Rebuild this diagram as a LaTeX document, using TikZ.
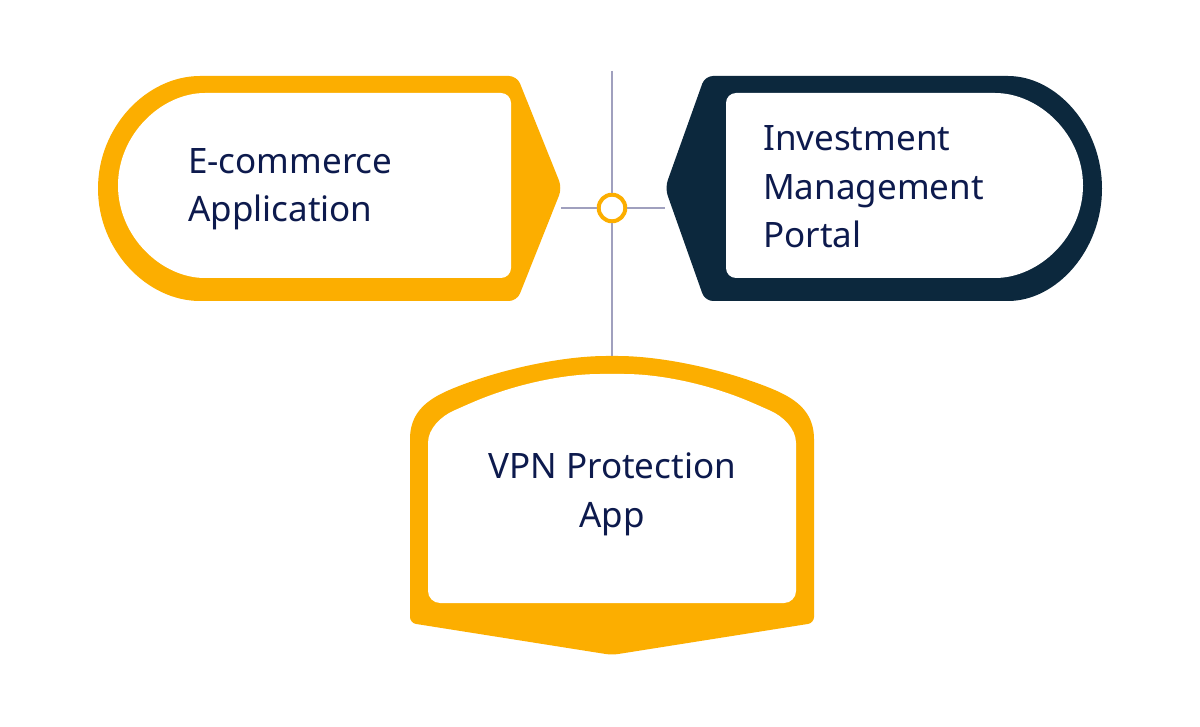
\documentclass[tikz,border=0pt]{standalone}
\usepackage{fontspec}
\setmainfont{Noto Sans}
\usetikzlibrary{positioning}
\definecolor{appgold}{RGB}{252,174,0}
\definecolor{appnavy}{RGB}{12,40,61}
\definecolor{textnavy}{RGB}{13,26,77}
\definecolor{linkgrey}{RGB}{160,160,190}

\begin{document}
\begin{tikzpicture}[x=1pt,y=-1pt]
      \tikzstyle{txt} = [text=textnavy, font=\fontsize{35}{48.5}\selectfont, inner sep=0pt]
      \tikzstyle{hubring} = [draw=appgold, line width=4pt, circle, fill=white, minimum size=26.6pt, inner sep=0pt]
      \tikzstyle{link} = [draw=linkgrey, line width=1.2pt]
      \useasboundingbox[fill=white] (0,0) rectangle (1200,727);
      % left tag
      \fill[appgold, rounded corners=8pt] (360,76) -- (517,76) -- (562,188) -- (517,301) -- (208,301)
        arc[start angle=90, end angle=270, x radius=110, y radius=112.5] -- cycle;
      \fill[white, rounded corners=10pt] (360,93) -- (511,93) -- (511,278) -- (215,278)
        arc[start angle=90, end angle=270, x radius=97, y radius=92.5] -- cycle;
      % right tag
      \fill[appnavy, rounded corners=8pt] (850,301) -- (705,301) -- (665,188) -- (705,76) -- (1000,76)
        arc[start angle=-90, end angle=90, x radius=102, y radius=112.5] -- cycle;
      \fill[white, rounded corners=10pt] (850,278) -- (726,278) -- (726,93) -- (985,93)
        arc[start angle=-90, end angle=90, x radius=98, y radius=92.5] -- cycle;
      % bottom tag
      \fill[appgold, rounded corners=6pt] (612,655) -- (410,623) -- (410,445)
        .. controls (410,415) and (424,402) .. (449,390)
        .. controls (504,368) and (565,356) .. (612,356)
        .. controls (659,356) and (720,368) .. (775,390)
        .. controls (800,402) and (814,415) .. (814,445) -- (814,623) -- cycle;
      \fill[white, rounded corners=12pt] (428,455) -- (428,603) -- (796,603) -- (796,455)
        .. controls (796,428) and (782,416) .. (760,406)
        .. controls (708,384) and (660,374) .. (612,374)
        .. controls (564,374) and (516,384) .. (464,406)
        .. controls (442,416) and (428,428) .. (428,455) -- cycle;
      \path
      node[txt, anchor=base west, align=left] (ecom) at (188,222) {E-commerce\\Application}
      node[txt, anchor=base west, align=left] (invest) at (763,248) {Investment\\Management\\Portal}
      node[txt, anchor=base, align=center] (vpn) at (612,527) {VPN Protection\\App};
      \coordinate (linktop) at (612,71);
      \coordinate (vpntop) at (612,356);
      \coordinate (ecomtip) at (561,208);
      \coordinate (investtip) at (665,208);
      \node[hubring] (hub) at (612,208) {};
      \draw[link] (linktop) -- (hub);
      \draw[link] (hub) -- (vpntop);
      \draw[link] (ecomtip) -- (hub);
      \draw[link] (hub) -- (investtip);
\end{tikzpicture}
\end{document}
